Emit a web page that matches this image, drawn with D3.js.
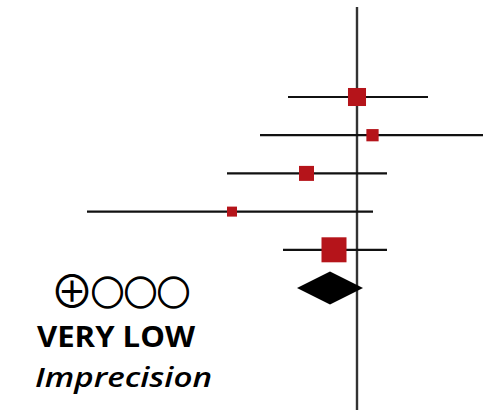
<!DOCTYPE html>
<html>
<head>
<meta charset="utf-8">
<script src="https://cdn.jsdelivr.net/npm/d3@7"></script>
<style>
  body { margin: 0; background: #fff; }
</style>
</head>
<body>
<svg width="488" height="410"></svg>
<script>
// forest plot, effect estimates on a log scale (0 = no effect)
let studies = ['Study 1', 'Study 2', 'Study 3', 'Study 4', 'Study 5']
let estimates = [0.0, 0.155, -0.505, -1.25, -0.23]
let lowers = [-0.69, -0.97, -1.30, -2.70, -0.74]
let uppers = [0.71, 1.26, 0.30, 0.16, 0.30]
let weights = [13, 6, 9, 4, 25]

let pooled = { est: -0.27, lower: -0.60, upper: 0.06 }

let gradeOn = '⊕'
let gradeOff = '○○○'
let certainty = 'VERY LOW'
let reason = 'Imprecision'

let width = 488
let height = 410

let svg = d3.select('svg')

let xScale = d3.scaleLinear()
  .domain([-3, 1.5])
  .range([57, 507])

let yScale = d3.scalePoint()
  .domain(d3.range(studies.length + 1))
  .range([97, 288])

let sizeScale = d3.scaleSqrt()
  .domain([0, d3.max(weights)])
  .range([0, 25])

let rows = studies.map((s, i) => ({
  name: s,
  est: estimates[i],
  lo: lowers[i],
  hi: uppers[i],
  w: weights[i]
}))

// line of no effect
svg.append('line')
  .attr('x1', xScale(0))
  .attr('x2', xScale(0))
  .attr('y1', 7)
  .attr('y2', height)
  .attr('stroke', '#333')
  .attr('stroke-width', 2.4)

// confidence intervals
svg.selectAll('.ci')
  .data(rows)
  .enter()
  .append('line')
  .attr('class', 'ci')
  .attr('x1', d => xScale(d.lo))
  .attr('x2', d => xScale(d.hi))
  .attr('y1', (d, i) => yScale(i))
  .attr('y2', (d, i) => yScale(i))
  .attr('stroke', '#111')
  .attr('stroke-width', 2.2)

// study squares
svg.selectAll('.box')
  .data(rows)
  .enter()
  .append('rect')
  .attr('class', 'box')
  .attr('x', d => xScale(d.est) - sizeScale(d.w) / 2)
  .attr('y', (d, i) => yScale(i) - sizeScale(d.w) / 2)
  .attr('width', d => sizeScale(d.w))
  .attr('height', d => sizeScale(d.w))
  .attr('fill', '#b5141a')

// pooled diamond
let dy = yScale(studies.length)
let half = 16.5
svg.append('path')
  .attr('d', d3.line()([
    [xScale(pooled.lower), dy],
    [xScale(pooled.est), dy - half],
    [xScale(pooled.upper), dy],
    [xScale(pooled.est), dy + half]
  ]) + 'Z')
  .attr('fill', '#000')

// GRADE certainty text
let grade = svg.append('text')
  .attr('x', 50)
  .attr('y', 308)
  .attr('font-family', "'Noto Sans CJK JP'")
  .attr('fill', '#000')
  .attr('stroke', '#000')

grade.append('tspan')
  .attr('font-size', 44)
  .attr('stroke-width', 0)
  .text(gradeOn)

grade.append('tspan')
  .attr('font-size', 33)
  .attr('stroke-width', 1.3)
  .attr('dy', -3.5)
  .attr('dx', -3)
  .attr('letter-spacing', 0)
  .text(gradeOff)

svg.append('text')
  .attr('x', 37)
  .attr('y', 347)
  .attr('textLength', 158)
  .attr('lengthAdjust', 'spacingAndGlyphs')
  .attr('font-family', 'Open Sans')
  .attr('font-weight', 'bold')
  .attr('font-size', 28)
  .attr('fill', '#000')
  .text(certainty)

svg.append('text')
  .attr('x', 35)
  .attr('y', 387)
  .attr('textLength', 177)
  .attr('lengthAdjust', 'spacingAndGlyphs')
  .attr('font-family', 'Open Sans')
  .attr('font-style', 'italic')
  .attr('font-weight', 600)
  .attr('font-size', 27)
  .attr('fill', '#000')
  .text(reason)
</script>
</body>
</html>
